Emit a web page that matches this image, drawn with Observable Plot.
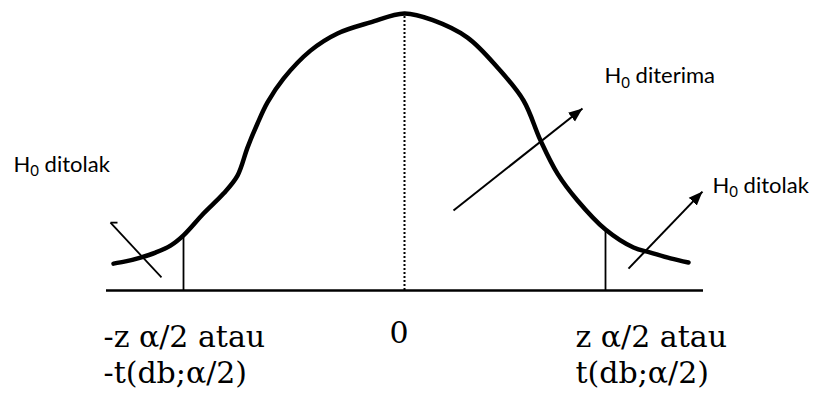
<!DOCTYPE html>
<html>
<head>
<meta charset="utf-8">
<script src="https://cdn.jsdelivr.net/npm/d3@7"></script>
<script src="https://cdn.jsdelivr.net/npm/@observablehq/plot@0.6"></script>
<style>
  html, body { margin: 0; padding: 0; background: #ffffff; }
  #chart { width: 829px; height: 393px; }
</style>
</head>
<body>
<div id="chart"></div>
<script>
// Bell curve (relative density)
const curveX = [-2.91, -2.79, -2.64, -2.49, -2.34, -2.21, -2.01, -1.81, -1.67, -1.57, -1.47, -1.37, -1.21, -0.94, -0.67, -0.34, 0.00, 0.29, 0.63, 0.93, 1.19, 1.36, 1.53, 1.73, 2.01, 2.29, 2.46, 2.66, 2.84];
const curveY = [0.097, 0.105, 0.119, 0.137, 0.162, 0.199, 0.278, 0.350, 0.415, 0.516, 0.603, 0.679, 0.765, 0.866, 0.928, 0.968, 1.000, 0.975, 0.913, 0.805, 0.686, 0.542, 0.422, 0.325, 0.220, 0.155, 0.137, 0.116, 0.101];

// Critical values (vertical lines) and curve height there
const criticalX = [-2.21, 2.01];
const criticalY = [0.199, 0.220];

// Centre (mean) line
const centerX = [0];
const centerTop = [1.0];

// Axis extent
const axisFrom = [-2.98];
const axisTo = [2.99];

// Arrows: H0 diterima (middle), H0 ditolak (right)
const arrowX1 = [0.49, 2.24];
const arrowY1 = [0.289, 0.079];
const arrowX2 = [1.78, 2.98];
const arrowY2 = [0.657, 0.357];

// Left pointer line (no head) with a small hook
const pointerX1 = [-2.94, -2.94];
const pointerY1 = [0.245, 0.245];
const pointerX2 = [-2.43, -2.87];
const pointerY2 = [0.047, 0.245];

// Region labels
const regionText = ["H\u2080 ditolak", "H\u2080 diterima", "H\u2080 ditolak"];
const regionX = [-3.91, 2.00, 3.08];
const regionY = [0.486, 0.804, 0.410];

// Tick labels under the axis
const tickText = ["-z \u03b1/2 atau\n-t(db;\u03b1/2)", "z \u03b1/2 atau\nt(db;\u03b1/2)"];
const tickX = [-3.01, 1.71];
const zeroText = ["0"];
const zeroX = [-0.055];

const curve = curveX.map((x, i) => ({x, y: curveY[i]}));
const crit = criticalX.map((x, i) => ({x, y: criticalY[i]}));
const center = centerX.map((x, i) => ({x, y: centerTop[i]}));
const axisLine = axisFrom.map((x1, i) => ({x1, x2: axisTo[i]}));
const arrows = arrowX1.map((x1, i) => ({x1, y1: arrowY1[i], x2: arrowX2[i], y2: arrowY2[i]}));
const pointers = pointerX1.map((x1, i) => ({x1, y1: pointerY1[i], x2: pointerX2[i], y2: pointerY2[i]}));
const regions = regionText.map((t, i) => ({t, x: regionX[i], y: regionY[i]}));
const ticks = tickText.map((t, i) => ({t, x: tickX[i]}));
const zeros = zeroText.map((t, i) => ({t, x: zeroX[i]}));

function triangleMarker(color) {
  const m = d3.create("svg:marker")
    .attr("viewBox", "-10 -5 10 10")
    .attr("markerWidth", 7)
    .attr("markerHeight", 7)
    .attr("orient", "auto")
    .attr("fill", color)
    .attr("stroke", "none");
  m.append("path").attr("d", "M-10,-4L0,0L-10,4Z");
  return m.node();
}

const chart = Plot.plot({
  width: 829,
  height: 393,
  marginLeft: 104,
  marginRight: 125,
  marginTop: 13,
  marginBottom: 103,
  style: {background: "#ffffff", overflow: "visible"},
  x: {domain: [-3, 3], axis: null},
  y: {domain: [0, 1], axis: null},
  marks: [
    Plot.ruleY(axisLine, {x1: "x1", x2: "x2", y: 0, stroke: "#000", strokeWidth: 2.5}),
    Plot.ruleX(center, {x: "x", y1: 0, y2: "y", stroke: "#000", strokeWidth: 2, strokeDasharray: "2,2"}),
    Plot.ruleX(crit, {x: "x", y1: 0, y2: "y", stroke: "#000", strokeWidth: 1.8}),
    Plot.line(curve, {x: "x", y: "y", curve: "catmull-rom", stroke: "#000", strokeWidth: 4.5, strokeLinejoin: "round", strokeLinecap: "round"}),
    Plot.link(pointers, {x1: "x1", y1: "y1", x2: "x2", y2: "y2", stroke: "#000", strokeWidth: 1.8}),
    Plot.link(arrows, {x1: "x1", y1: "y1", x2: "x2", y2: "y2", stroke: "#000", strokeWidth: 2, markerEnd: triangleMarker}),
    Plot.text(regions, {x: "x", y: "y", text: "t", textAnchor: "start", lineAnchor: "top", fontSize: 22, fontFamily: "Lato, 'DejaVu Sans', sans-serif", fill: "#000", className: "region-label"}),
    Plot.text(ticks, {x: "x", y: 0, text: "t", textAnchor: "start", lineAnchor: "top", lineHeight: 1.2, dy: 31, fontSize: 30, fontFamily: "'DejaVu Serif', serif", fill: "#000"}),
    Plot.text(zeros, {x: "x", y: 0, text: "t", textAnchor: "middle", lineAnchor: "top", dy: 31, fontSize: 30, fontFamily: "'DejaVu Serif', serif", fill: "#000"})
  ]
});

// Render the subscript "0" as a real lowered, smaller digit
d3.select(chart).selectAll("text").each(function () {
  const el = d3.select(this);
  if (this.querySelector("tspan")) return;
  const s = this.textContent;
  if (!s.includes("\u2080")) return;
  const [head, tail] = s.split("\u2080");
  el.text(null);
  el.append("tspan").text(head);
  el.append("tspan").attr("font-size", "0.68em").attr("dy", "0.28em").text("0");
  el.append("tspan").attr("dy", "-0.19em").text(tail);
});

document.getElementById("chart").appendChild(chart);
</script>
</body>
</html>
